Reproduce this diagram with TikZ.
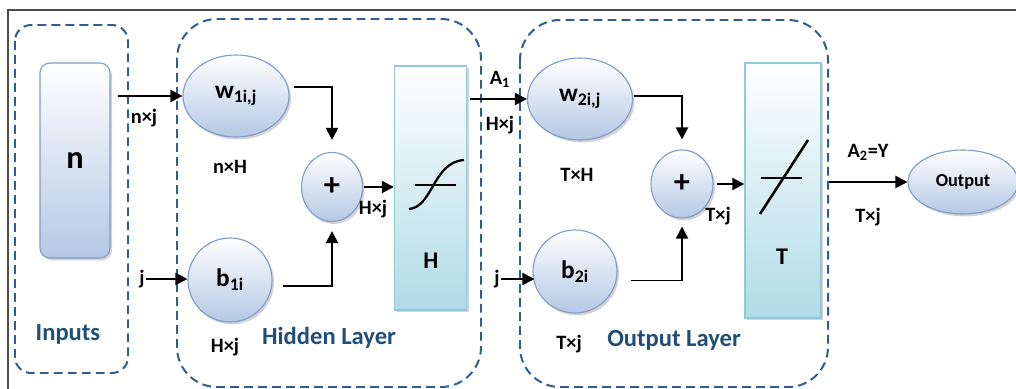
\documentclass[tikz,border=0pt]{standalone}
\usepackage{fontspec}
\setmainfont{Carlito}
\usetikzlibrary{arrows.meta, positioning, shapes.geometric, shadows}
\definecolor{nodeblue}{RGB}{180,200,228}
\definecolor{nodeedge}{RGB}{126,156,204}
\definecolor{actteal}{RGB}{176,219,230}
\definecolor{actedge}{RGB}{143,202,216}
\definecolor{layerblue}{RGB}{46,92,148}
\definecolor{titleblue}{RGB}{31,78,121}

\begin{document}
\begin{tikzpicture}[x=0.25mm, y=-0.25mm, >={Triangle[length=3mm, width=3mm]},
  wire/.style={->, line width=1.4pt},
  unit/.style={ellipse, draw=nodeedge, line width=0.8pt, top color=white, bottom color=nodeblue, inner sep=0pt,
    font=\bfseries\fontsize{18}{20}\selectfont, drop shadow={shadow xshift=0.5mm, shadow yshift=-0.6mm, opacity=0.35}},
  act/.style={draw=actedge, line width=1pt, top color=white, bottom color=actteal, inner sep=0pt,
    drop shadow={shadow xshift=0.5mm, shadow yshift=-0.6mm, opacity=0.35}},
  lbl/.style={font=\bfseries\fontsize{14.5}{16}\selectfont, inner sep=1pt},
  big/.style={font=\bfseries\fontsize{17}{19}\selectfont},
  title/.style={font=\bfseries\fontsize{17.5}{20}\selectfont, text=titleblue},
  layer/.style={draw=layerblue, line width=1.4pt, dash pattern=on 2.2mm off 1.3mm, rounded corners=10mm}]
\useasboundingbox (0,0) rectangle (1016,389);
\draw[black!70, line width=1.2pt] (1016,10) -- (8,10) -- (8,389);
\draw[layer, rounded corners=4mm] (15,25) rectangle (128,373);
\draw[layer] (177,19) rectangle (481,387);
\draw[layer] (520,20) rectangle (828,387);
\node[unit, rectangle, rounded corners=2.5mm, minimum width=17.5mm, minimum height=48.75mm, font=\bfseries\fontsize{23}{25}\selectfont] (n) at (75,160.5) {n};
\node[unit, minimum width=26.5mm, minimum height=20.5mm] (w1) at (236,96) {w\textsubscript{1i,j}};
\node[unit, minimum width=15.25mm, minimum height=17.25mm, font=\bfseries\fontsize{23}{25}\selectfont] (p1) at (332,187) {+};
\node[unit, minimum width=21mm, minimum height=21mm] (b1) at (230,280) {b\textsubscript{1i}};
\node[act, minimum width=18mm, minimum height=61mm] (H) at (430.5,188) {};
\node[unit, minimum width=26.25mm, minimum height=20.5mm] (w2) at (580,99) {w\textsubscript{2i,j}};
\node[unit, minimum width=15.5mm, minimum height=17mm, font=\bfseries\fontsize{23}{25}\selectfont] (p2) at (682,184) {+};
\node[unit, minimum width=21mm, minimum height=20.75mm] (b2) at (575,271.5) {b\textsubscript{2i}};
\node[act, minimum width=19mm, minimum height=63.75mm] (T) at (783,190.5) {};
\node[unit, minimum width=27.5mm, minimum height=16mm, font=\bfseries\fontsize{13}{15}\selectfont] (out) at (963,182) {Output};
\node[big] (Hname) at (431,261) {H};
\node[big] (Tname) at (782,257) {T};
\node[title] (tin) at (68,334) {Inputs};
\node[title] (thid) at (329,338) {Hidden Layer};
\node[title] (tout) at (674,340) {Output Layer};
\node[lbl] (nj) at (144,118) {n×j};
\node[lbl] (j1) at (142,279) {j};
\node[lbl] (nH) at (230,167) {n×H};
\node[lbl] (Hj1) at (225,347) {H×j};
\node[lbl] (Hj2) at (373,209) {H×j};
\node[lbl] (a1) at (500,79) {A\textsubscript{1}};
\node[lbl] (Hj3) at (500,125) {H×j};
\node[lbl] (j2) at (497,279) {j};
\node[lbl] (TH) at (577,175) {T×H};
\node[lbl] (Tj1) at (569,344) {T×j};
\node[lbl] (Tj2) at (718,216) {T×j};
\node[lbl] (a2) at (868,152) {A\textsubscript{2}=Y};
\node[lbl] (Tj3) at (868,217) {T×j};
\draw[line width=1.6pt] (409,209) .. controls (433,207) and (433,162) .. (464,160);
\draw[line width=0.9pt] (415,185) -- (456,185);
\draw[line width=1.8pt] (760,214) -- (808,140);
\draw[line width=0.9pt] (761,178) -- (802,178);
\draw[wire] ([xshift=1.75mm]n.east |- w1.west) -- (w1.west); \draw[wire] (j1.east) -- (j1.east -| b1.west);
\draw[wire] ([xshift=1mm, yshift=2.25mm]w1.east) -| ([yshift=3mm]p1.north);
\draw[wire] ([xshift=2.5mm, yshift=-1.5mm]b1.east) -| ([yshift=-2.25mm]p1.south);
\draw[wire] ([xshift=0.25mm]p1.east) -- (H.west |- p1.east);
\draw[wire] ([xshift=0.75mm]H.east |- w2.west) -- (w2.west); \draw[wire] (j2.east) -- ([xshift=0.5mm]j2.east -| b2.west);
\draw[wire] ([xshift=0.25mm, yshift=0.75mm]w2.east) -| ([yshift=2.5mm]p2.north);
\draw[wire] ([xshift=3.25mm, yshift=-2.25mm]b2.east) -| ([yshift=-2mm]p2.south);
\draw[wire] ([xshift=0.75mm]p2.east) -- (T.west |- p2.east);
\draw[wire] ([xshift=1.75mm]T.east |- out.west) -- (out.west);
\end{tikzpicture}
\end{document}
